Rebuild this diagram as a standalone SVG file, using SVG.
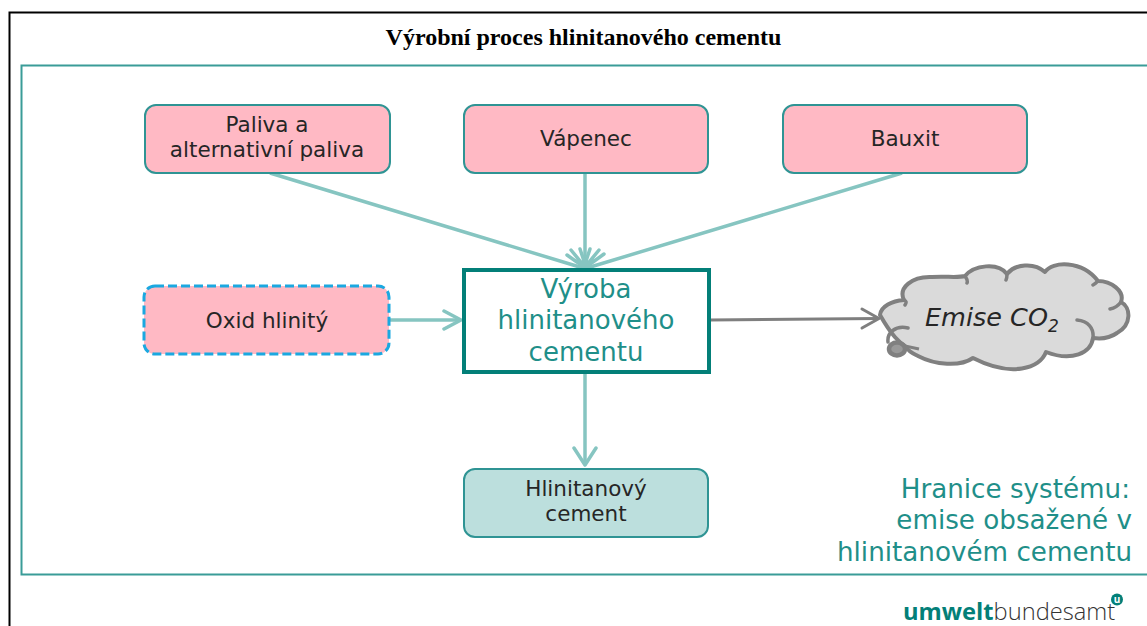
<svg xmlns="http://www.w3.org/2000/svg" width="1147" height="626" viewBox="0 0 1147 626">
<style>
.box{stroke:#2f9494;stroke-width:2}
.pink{fill:#ffb9c4}
.t{font-family:"DejaVu Sans",Verdana,sans-serif;font-size:21.500px;fill:#262626;text-anchor:middle}
.g{font-family:"DejaVu Sans",Verdana,sans-serif;fill:#1f8f89;text-anchor:middle}
.e{font-family:"DejaVu Sans",Verdana,sans-serif;font-size:26.200px;fill:#1f8f89;text-anchor:end}
.c{fill:none;stroke:#86c5c1;stroke-width:3.500}
.a{fill:none;stroke:#86c5c1;stroke-width:3.500;stroke-linecap:round;stroke-linejoin:round}
</style>
<rect width="1147" height="626" fill="#fff"/>
<path d="M9.500 626V12.500H1147" fill="none" stroke="#000" stroke-width="2"/>
<path d="M1147 65.500H21.500V574.500H1147" fill="none" stroke="#3a9c98" stroke-width="2"/>
<text x="583.500" y="45" font-family="'Liberation Serif',serif" font-weight="700" font-size="24" text-anchor="middle" fill="#000">Výrobní proces hlinitanového cementu</text>
<g id="connectors">
<path class="c" d="M270 173L583 268M585 173V268M902 173L587 268M390 320H461M585 373V465"/>
<path class="a" d="M567 255L584 267L590 249M571 250L585 267L599 250M580 249L586 267L604 254M444 311L461 320L444 329M574 448L585 465L596 448"/>
<path d="M710 320L879 318.500" fill="none" stroke="#7f7f7f" stroke-width="3"/>
<path d="M862 309L879 318.500L862 328" fill="none" stroke="#7f7f7f" stroke-width="3" stroke-linecap="round" stroke-linejoin="round"/>
</g>
<g id="n1"><rect class="box pink" x="145" y="105" width="245" height="68" rx="11"/><text class="t" x="267" y="132">Paliva a</text><text class="t" x="267" y="157">alternativní paliva</text></g>
<g id="n2"><rect class="box pink" x="464" y="105" width="244" height="68" rx="11"/><text class="t" x="586" y="146">Vápenec</text></g>
<g id="n3"><rect class="box pink" x="783" y="105" width="244" height="68" rx="11"/><text class="t" x="905" y="146">Bauxit</text></g>
<g id="n4"><rect class="pink" x="144" y="286" width="245" height="68" rx="11" stroke="#1ba8e0" stroke-width="3" stroke-dasharray="9 4"/><text class="t" x="267" y="328">Oxid hlinitý</text></g>
<g id="n5"><rect x="464" y="270" width="245" height="102" fill="#fff" stroke="#037f78" stroke-width="4"/><text class="g" font-size="26" x="586" y="298">Výroba</text><text class="g" font-size="26" x="586" y="329">hlinitanového</text><text class="g" font-size="26" x="586" y="361">cementu</text></g>
<g id="n6"><rect class="box" fill="#bcdfdd" x="464" y="469" width="244" height="68" rx="11"/><text class="t" x="586" y="496">Hlinitanový</text><text class="t" x="586" y="521">cement</text></g>
<g id="n7">
<path d="M880 315C881 306 892 301 904 300C898 288 912 276 932 277C945 276 958 278 965 276C974 265 998 262 1007 274C1015 264 1034 262 1045 272C1052 261 1082 260 1098 281C1111 281 1125 291 1121 302C1131 307 1132 325 1117 333C1110 338 1100 339 1093 338C1091 353 1072 362 1046 352C1040 368 1012 378 973 358C960 367 935 365 918 356C912 353 909 352 906 347C899 342 892 336 880 315Z" fill="#dadada" stroke="#808080" stroke-width="4" stroke-linejoin="round"/>
<path d="M908 328C895 325 887 333 888 342M1077 320C1088 321 1094 328 1093 338M1110 309C1115 308 1118 306 1121 302M904 300C906 301 907 302 905 305M965 276C967 279 968 281 967 283M1007 274C1007 277 1007 278 1006 280M1098 281C1096 283 1095 284 1093 285" fill="none" stroke="#808080" stroke-width="3.500" stroke-linecap="round"/>
<ellipse cx="897" cy="349" rx="8" ry="6.500" fill="#999" stroke="#808080" stroke-width="4.500"/>
<path d="M905 346L919 349" fill="none" stroke="#808080" stroke-width="3"/>
<text x="925" y="326" font-family="'DejaVu Sans',Verdana,sans-serif" font-style="italic" font-size="25.500" fill="#262626">Emise CO<tspan font-size="17" dy="6">2</tspan></text>
</g>
<g id="legend"><text class="e" x="1130" y="498">Hranice systému:</text><text class="e" x="1132" y="529">emise obsažené v</text><text class="e" x="1132" y="561">hlinitanovém cementu</text></g>
<g id="logo"><text x="903" y="620" font-family="'Open Sans','Noto Sans',sans-serif" font-size="23.700" fill="#037f78"><tspan font-weight="700">umwelt</tspan><tspan fill="#333" font-weight="300">bundesamt</tspan></text><circle cx="1117" cy="599.500" r="6" fill="#037f78"/><text x="1117" y="603" font-family="'Open Sans',sans-serif" font-size="10" font-weight="700" fill="#fff" text-anchor="middle">u</text></g>
</svg>
